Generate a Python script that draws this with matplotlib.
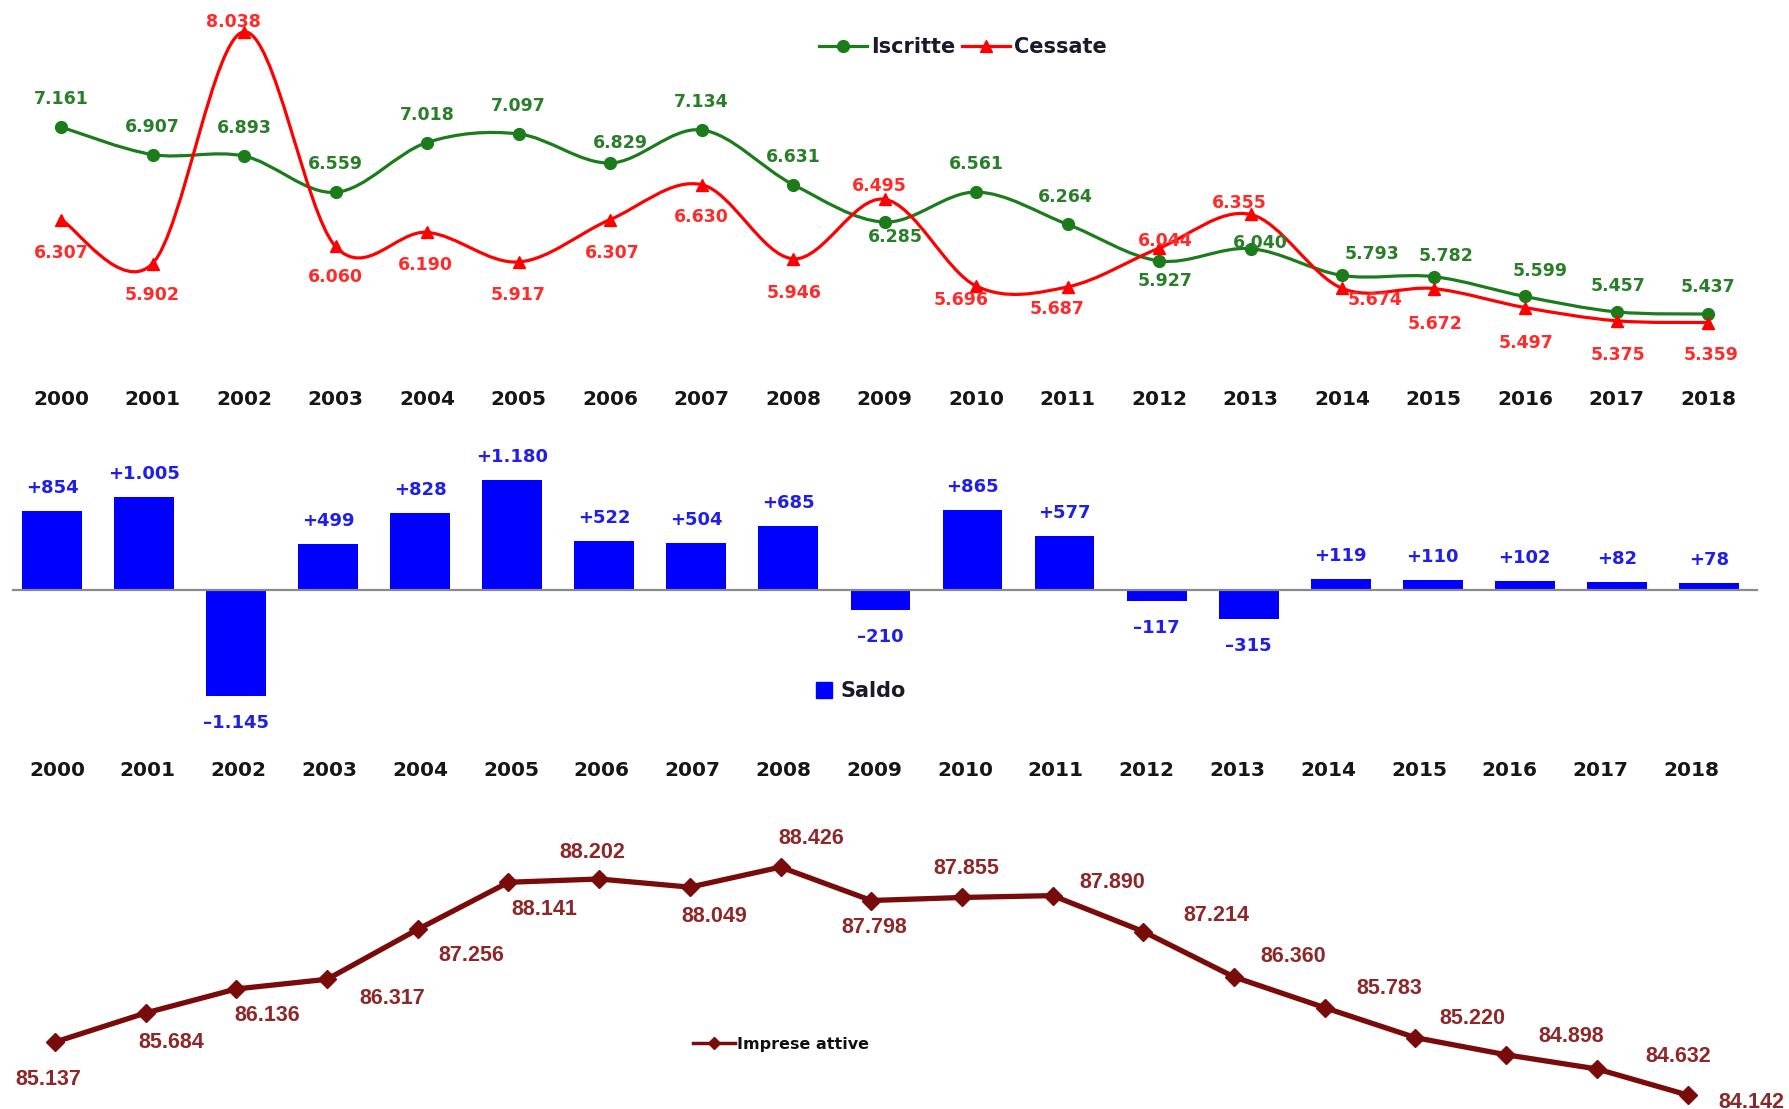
import matplotlib
matplotlib.use('Agg')
import matplotlib.pyplot as plt
from matplotlib.path import Path
from matplotlib.patches import PathPatch, Patch
from matplotlib.lines import Line2D
import numpy as np

plt.rcParams['font.family'] = ['DejaVu Sans']

years = list(range(2000, 2019))
iscritte = [7161, 6907, 6893, 6559, 7018, 7097, 6829, 7134, 6631, 6285,
            6561, 6264, 5927, 6040, 5793, 5782, 5599, 5457, 5437]
cessate = [6307, 5902, 8038, 6060, 6190, 5917, 6307, 6630, 5946, 6495,
           5696, 5687, 6044, 6355, 5674, 5672, 5497, 5375, 5359]
saldo = [854, 1005, -1145, 499, 828, 1180, 522, 504, 685, -210,
         865, 577, -117, -315, 119, 110, 102, 82, 78]
imprese = [85137, 85684, 86136, 86317, 87256, 88141, 88202, 88049, 88426, 87798,
           87855, 87890, 87214, 86360, 85783, 85220, 84898, 84632, 84142]

# label offsets in pixels (dx, dy with dy pointing down)
off_iscr = [(0, -28), (0, -28), (0, -28), (0, -28), (0, -28), (0, -28), (10, -20),
            (0, -28), (0, -28), (11, 15), (0, -28), (-2, -27), (6, 20), (10, -6),
            (30, -21), (13, -21), (15, -25), (2, -26), (0, -27)]
off_cess = [(0, 33), (0, 31), (-11, -10), (0, 31), (-2, 33), (0, 33), (2, 33),
            (0, 32), (1, 34), (-5, -13), (-15, 14), (-10, 22), (6, -7), (-11, -11),
            (33, 12), (2, 35), (1, 35), (1, 34), (3, 32)]
off_impr = [(-7, 37), (26, 30), (31, 27), (65, 19), (54, 26), (36, 27), (-7, -27),
            (24, 29), (31, -29), (3, 27), (4, -29), (60, -13), (73, -16), (59, -21),
            (64, -19), (57, -19), (65, -18), (81, -12), (64, 7)]

GREEN = '#1c7c1c'
GREEN_TXT = '#2a7e2a'
RED = '#ff0000'
RED_TXT = '#ff2a2a'
BLUE = '#0000ff'
BLUE_TXT = '#1f1fe6'
DARKRED = '#7a0b0b'
DARKRED_TXT = '#8e2828'
YEAR_C = '#161616'

W, H = 1789, 1109
fig = plt.figure(figsize=(W / 100, H / 100), dpi=100)
fig.patch.set_facecolor('white')


def panel(x0, step, y_ref=0, v_ref=0, slope=1.0):
    # full-figure axes: index 0 sits at pixel x0, value v_ref at pixel row y_ref
    ax = fig.add_axes([0, 0, 1, 1])
    ax.set_xlim(-x0 / step, (W - x0) / step)
    ax.set_ylim(v_ref - (H - y_ref) / slope, v_ref + y_ref / slope)
    ax.axis('off')
    ax.patch.set_alpha(0)
    return ax


def smooth_path(xs, ys):
    pts = np.column_stack([xs, ys]).astype(float)
    ext = np.vstack([pts[0], pts, pts[-1]])
    verts = [pts[0]]
    codes = [Path.MOVETO]
    for k in range(len(pts) - 1):
        p0, p1, p2, p3 = ext[k], ext[k + 1], ext[k + 2], ext[k + 3]
        verts += [p1 + (p2 - p0) / 6, p2 - (p3 - p1) / 6, p2]
        codes += [Path.CURVE4] * 3
    return Path(verts, codes)


def fmt(v):
    return f"{abs(v):,}".replace(',', '.')


def px(d):
    return (d[0] * 0.72, -d[1] * 0.72)


idx = np.arange(len(years))

# ---- top: Iscritte / Cessate ----
ax1 = panel(61, 91.5, 127, 7161, 0.1085)
for vals, col, mk, ms in [(iscritte, GREEN, 'o', 8.5), (cessate, RED, '^', 9)]:
    ax1.add_patch(PathPatch(smooth_path(idx, vals), fill=False, edgecolor=col, lw=2.3, zorder=2))
    ax1.plot(idx, vals, ls='none', marker=mk, ms=ms, color=col, zorder=3)
for i in idx:
    ax1.annotate(fmt(iscritte[i]), (i, iscritte[i]), xytext=px(off_iscr[i]), textcoords='offset points',
                 ha='center', va='center', fontsize=12.5, fontweight='bold', color=GREEN_TXT, zorder=4)
    ax1.annotate(fmt(cessate[i]), (i, cessate[i]), xytext=px(off_cess[i]), textcoords='offset points',
                 ha='center', va='center', fontsize=12.5, fontweight='bold', color=RED_TXT, zorder=4)
    ax1.text(i, 1 - 399 / H, str(years[i]), transform=ax1.get_xaxis_transform(),
             ha='center', va='center', fontsize=14.5, fontweight='bold', color=YEAR_C)

h_top = [Line2D([], [], color=GREEN, lw=2.3, marker='o', ms=8.5),
         Line2D([], [], color=RED, lw=2.3, marker='^', ms=9)]
fig.legend(h_top, ['Iscritte', 'Cessate'], loc='center', bbox_to_anchor=(963 / W, 1 - 47 / H),
           ncol=2, frameon=False, prop={'size': 15, 'weight': 'bold'}, handlelength=2.3,
           handletextpad=0.2, columnspacing=0.3, labelcolor='#1a1a2a')

# ---- middle: Saldo ----
ax2 = panel(52, 92.05, 590, 0, 0.093)
ax2.bar(idx, saldo, width=0.65, color=BLUE, zorder=2)
ax2.axhline(0, xmin=13 / W, xmax=1757 / W, color='#8a8a8a', lw=1.6, zorder=3)
for i in idx:
    v = saldo[i]
    txt = ('+' if v > 0 else '\u2013') + fmt(v)
    dy = 23 if v > 0 else -27
    ax2.annotate(txt, (i, v), xytext=(0, dy * 0.72), textcoords='offset points',
                 ha='center', va='center', fontsize=13, fontweight='bold', color=BLUE_TXT)

ax2y = panel(57, 90.8)
for i in idx:
    ax2y.text(i, 1 - 771 / H, str(years[i]), transform=ax2y.get_xaxis_transform(),
              ha='center', va='center', fontsize=14.5, fontweight='bold', color=YEAR_C)

fig.legend([Patch(color=BLUE)], ['Saldo'], loc='center', bbox_to_anchor=(861 / W, 1 - 691 / H),
           frameon=False, prop={'size': 15, 'weight': 'bold'}, handlelength=0.8, handleheight=0.8,
           handletextpad=0.4, labelcolor='#1a1a2a')

# ---- bottom: Imprese attive ----
ax3 = panel(55, 90.7, 1095, 84142, 0.0532)
ax3.plot(idx, imprese, color=DARKRED, lw=3.8, marker='D', ms=9, zorder=2)
for i in idx:
    ax3.annotate(fmt(imprese[i]), (i, imprese[i]), xytext=px(off_impr[i]), textcoords='offset points',
                 ha='center', va='center', fontsize=15.5, fontweight='bold', color=DARKRED_TXT,
                 family='Liberation Sans')

fig.legend([Line2D([], [], color=DARKRED, lw=2.5, marker='D', ms=6)], ['Imprese attive'],
           loc='center', bbox_to_anchor=(781 / W, 1 - 1044 / H), frameon=False,
           prop={'size': 11.5, 'weight': 'bold'}, handlelength=2.6, handletextpad=0.1,
           labelcolor='#111111')

fig.savefig('out.png', dpi=100, facecolor='white')
